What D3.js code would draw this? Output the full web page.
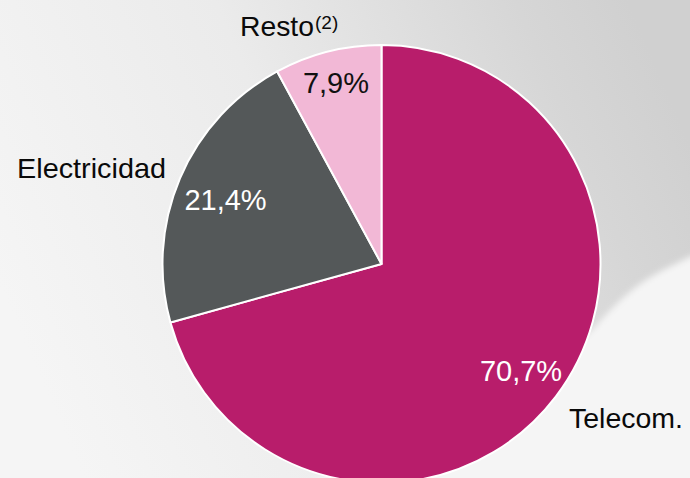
<!DOCTYPE html>
<html>
<head>
<meta charset="utf-8">
<script src="https://cdn.jsdelivr.net/npm/d3@7"></script>
<style>
html,body{margin:0;padding:0;background:#f2f2f2;}
svg{display:block;}
text{font-family:"Liberation Sans",Arial,sans-serif;}
</style>
</head>
<body>
<svg id="chart" width="690" height="478"></svg>
<script>
const categories = ["Telecom.", "Electricidad", "Resto"];
const values = [70.7, 21.4, 7.9];
const valueLabels = ["70,7%", "21,4%", "7,9%"];
const colors = ["#B81D6B", "#545859", "#F2B8D6"];

const W = 690, H = 478;
const svg = d3.select("#chart");
const defs = svg.append("defs");

const bg = defs.append("linearGradient").attr("id","bg")
  .attr("x1","0").attr("y1","0.6").attr("x2","1").attr("y2","0.3");
bg.append("stop").attr("offset","0").attr("stop-color","#f5f5f5");
bg.append("stop").attr("offset","0.45").attr("stop-color","#ebebeb");
bg.append("stop").attr("offset","0.85").attr("stop-color","#d6d6d6");
bg.append("stop").attr("offset","1").attr("stop-color","#d0d0d0");
svg.append("rect").attr("width",W).attr("height",H).attr("fill","url(#bg)");

const blur = defs.append("filter").attr("id","blur").attr("x","-0.2").attr("y","-0.2").attr("width","1.4").attr("height","1.4");
blur.append("feGaussianBlur").attr("stdDeviation","3");
// soft cloud shape lower right
svg.append("path")
  .attr("d","M700,252 C680,262 660,270 640,284 C622,297 608,312 592,330 C560,360 500,390 430,410 L300,490 L700,490 Z")
  .attr("fill","#f5f5f5").attr("filter","url(#blur)");

const cx = 381.5, cy = 264, r = 219;
const pie = d3.pie().sort(null).value(d => d.v);
const arc = d3.arc().innerRadius(0).outerRadius(r);
const data = categories.map((c,i)=>({c, v: values[i], lab: valueLabels[i], col: colors[i]}));
const arcs = pie(data);

const g = svg.append("g").attr("transform",`translate(${cx},${cy})`);
g.selectAll("path.slice").data(arcs).enter().append("path")
  .attr("class","slice")
  .attr("d",arc)
  .attr("fill",d=>d.data.col)
  .attr("stroke","#ffffff").attr("stroke-width",2).attr("stroke-linejoin","round");

// value labels inside slices
const valuePos = [
  {x: 521, y: 381, fill:"#ffffff"},
  {x: 225.5, y: 210, fill:"#ffffff"},
  {x: 336, y: 93, fill:"#111111"}
];
svg.selectAll("text.val").data(arcs).enter().append("text")
  .attr("class","val")
  .attr("x",(d,i)=>valuePos[i].x).attr("y",(d,i)=>valuePos[i].y)
  .attr("text-anchor","middle")
  .attr("fill",(d,i)=>valuePos[i].fill)
  .attr("font-size",29)
  .text(d=>d.data.lab);

// category labels
const catPos = [
  {x: 569, y: 428},
  {x: 17, y: 178},
  {x: 240, y: 36}
];
svg.selectAll("text.cat").data(arcs).enter().append("text")
  .attr("class","cat")
  .attr("x",(d,i)=>catPos[i].x).attr("y",(d,i)=>catPos[i].y)
  .attr("fill","#0a0a0a")
  .attr("font-size",28)
  .attr("textLength",(d,i)=>[114,149,74][i])
  .attr("lengthAdjust","spacingAndGlyphs")
  .text(d=>d.data.c);
// superscript for Resto
svg.append("text").attr("x",315).attr("y",29).attr("font-size",19).attr("fill","#0a0a0a").text("(2)");
</script>
</body>
</html>
